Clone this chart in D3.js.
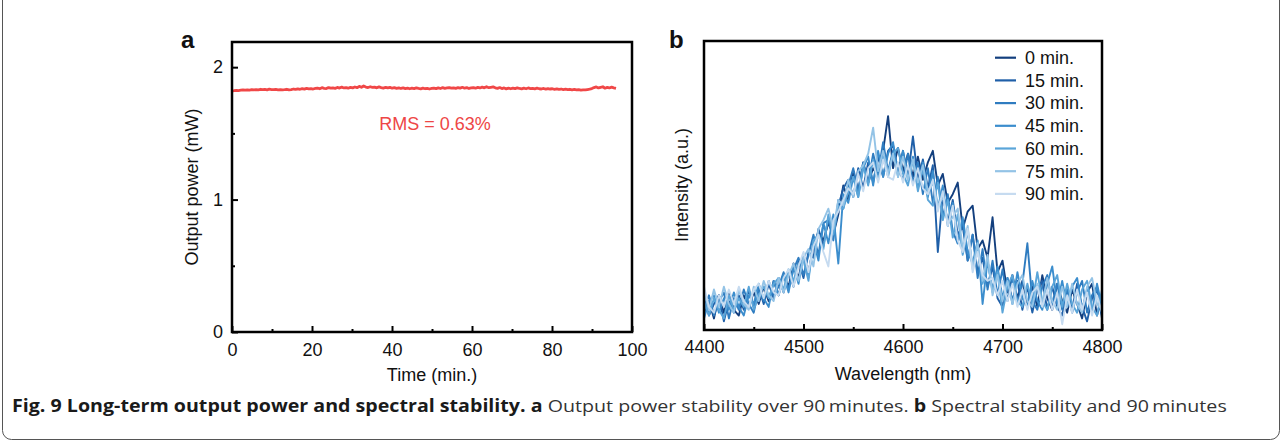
<!DOCTYPE html>
<html>
<head>
<meta charset="utf-8">
<script src="https://cdn.jsdelivr.net/npm/d3@7"></script>
<style>
  html, body { margin: 0; padding: 0; background: #fff; }
  svg text { font-family: "Liberation Sans", Arial, sans-serif; }
</style>
</head>
<body>
<div id="chart"></div>
<script>
// panel a : output power over time (mW), evenly sampled from 0 to 96 min
const powerValues = [
  1.820,1.822,1.825,1.823,1.826,1.828,1.826,1.829,1.827,1.830,1.828,
  1.831,1.829,1.833,1.830,1.832,1.829,1.834,1.831,1.830,1.832,
  1.829,1.831,1.828,1.830,1.833,1.829,1.831,1.835,1.832,1.836,
  1.833,1.838,1.834,1.840,1.836,1.838,1.835,1.839,1.842,1.837,
  1.845,1.840,1.838,1.846,1.841,1.843,1.840,1.847,1.842,1.849,
  1.843,1.846,1.841,1.848,1.844,1.850,1.845,1.855,1.848,1.858,
  1.850,1.846,1.852,1.847,1.849,1.844,1.851,1.846,1.842,1.848,
  1.843,1.847,1.841,1.845,1.840,1.844,1.839,1.843,1.838,1.842,
  1.837,1.841,1.838,1.843,1.839,1.836,1.841,1.837,1.840,1.835,
  1.839,1.842,1.838,1.844,1.839,1.845,1.840,1.843,1.846,1.841,
  1.844,1.840,1.846,1.842,1.848,1.841,1.845,1.839,1.843,1.846,
  1.841,1.847,1.843,1.849,1.844,1.852,1.845,1.848,1.851,1.844,
  1.840,1.846,1.838,1.843,1.836,1.841,1.837,1.842,1.838,1.844,
  1.839,1.836,1.841,1.837,1.843,1.838,1.840,1.836,1.841,1.837,
  1.835,1.839,1.834,1.838,1.835,1.837,1.833,1.836,1.832,1.835,
  1.831,1.834,1.830,1.833,1.829,1.832,1.828,1.830,1.827,1.829,
  1.828,1.831,1.834,1.838,1.846,1.851,1.843,1.848,1.852,1.841,
  1.847,1.843,1.849,1.844,1.840
];
const timeEnd = 96;
const xTicksA = [0, 20, 40, 60, 80, 100];
const xMinorA = [10, 30, 50, 70, 90];
const yTicksA = [0, 1, 2];
const yMinorA = [0.5, 1.5];
const rmsLabel = "RMS = 0.63%";

// panel b : spectra, 4400..4800 nm every 5 nm
const wavelengths = d3.range(4400, 4801, 5);
const seriesNames = ["0 min.", "15 min.", "30 min.", "45 min.", "60 min.", "75 min.", "90 min."];
const seriesColors = ["#133f7e", "#1f5fa8", "#2f7cc0", "#3b8dcd", "#5aa5d9", "#93c3e6", "#c6dbf0"];
const spec0 = [.05,.10,.04,.12,.06,.13,.07,.05,.12,.08,.13,.09,.15,.10,.17,.12,.19,.15,.23,.18,
  .26,.20,.29,.34,.31,.37,.33,.40,.50,.45,.55,.48,.58,.51,.56,.53,.62,.74,.56,.63,
  .55,.61,.53,.60,.52,.58,.62,.50,.54,.44,.47,.51,.35,.41,.43,.28,.31,.25,.39,.20,
  .24,.13,.19,.11,.17,.09,.15,.08,.19,.11,.07,.16,.10,.06,.14,.09,.04,.13,.16,.05,.12];
const spec15 = [.11,.05,.09,.12,.03,.10,.06,.12,.07,.14,.08,.15,.09,.16,.11,.18,.13,.20,.15,.24,
  .18,.27,.25,.35,.29,.39,.33,.43,.49,.52,.46,.56,.49,.58,.51,.60,.53,.62,.64,.55,
  .62,.53,.67,.52,.59,.49,.57,.27,.47,.37,.45,.33,.36,.24,.33,.20,.25,.15,.22,.11,
  .08,.18,.10,.17,.07,.15,.06,.14,.17,.07,.15,.08,.05,.14,.07,.16,.08,.03,.11,.14,.04];
const spec30 = [.07,.12,.05,.10,.13,.04,.11,.07,.14,.09,.06,.14,.10,.17,.12,.15,.20,.14,.21,.25,
  .19,.26,.33,.26,.37,.38,.31,.45,.42,.50,.56,.48,.58,.51,.61,.54,.65,.55,.62,.56,
  .52,.61,.51,.58,.47,.56,.44,.53,.39,.47,.34,.30,.38,.24,.33,.18,.28,.14,.24,.12,
  .21,.10,.18,.09,.16,.30,.10,.07,.15,.19,.09,.16,.07,.14,.06,.13,.17,.06,.12,.15,.05];
const spec45 = [.04,.10,.12,.06,.11,.07,.13,.08,.05,.12,.09,.16,.11,.08,.17,.12,.19,.13,.22,.16,
  .26,.18,.31,.24,.37,.30,.40,.23,.47,.44,.53,.46,.56,.60,.50,.62,.53,.61,.65,.53,
  .62,.52,.60,.49,.58,.46,.55,.42,.50,.36,.44,.30,.39,.27,.23,.31,.09,.24,.14,.22,
  .11,.18,.09,.20,.11,.08,.17,.10,.07,.16,.22,.09,.17,.08,.15,.18,.07,.14,.06,.16,.08];
const spec60 = [.10,.05,.11,.07,.04,.12,.07,.11,.08,.15,.07,.12,.15,.11,.16,.18,.14,.21,.17,.23,
  .24,.17,.31,.33,.28,.40,.33,.43,.42,.48,.53,.46,.57,.50,.59,.52,.60,.53,.61,.63,
  .54,.50,.59,.48,.56,.45,.43,.51,.38,.45,.32,.40,.26,.34,.22,.29,.16,.24,.13,.20,
  .06,.15,.19,.10,.08,.16,.09,.20,.10,.07,.15,.19,.08,.16,.09,.06,.14,.17,.08,.05,.14];
const spec75 = [.13,.07,.14,.08,.15,.09,.06,.14,.09,.07,.15,.10,.17,.12,.10,.18,.13,.19,.23,.17,
  .25,.28,.22,.35,.38,.42,.35,.45,.43,.52,.46,.55,.57,.61,.70,.55,.62,.54,.61,.53,
  .60,.52,.59,.51,.57,.48,.51,.43,.46,.37,.39,.42,.28,.36,.21,.30,.17,.26,.12,.19,
  .10,.17,.09,.16,.19,.10,.08,.16,.09,.18,.10,.07,.15,.08,.16,.09,.06,.15,.18,.09,.07];
const spec90 = [.15,.08,.06,.12,.08,.14,.09,.15,.10,.08,.14,.16,.11,.17,.13,.12,.18,.21,.15,.22,
  .27,.20,.29,.33,.27,.22,.38,.41,.45,.49,.47,.54,.48,.56,.58,.51,.59,.53,.52,.58,
  .51,.57,.50,.56,.49,.47,.52,.41,.48,.36,.43,.31,.27,.35,.20,.27,.19,.17,.18,.12,
  .17,.10,.16,.08,.14,.07,.13,.15,.08,.14,.07,.13,.02,.12,.06,.14,.07,.13,.05,.12,.06];
const spectra = [spec0, spec15, spec30, spec45, spec60, spec75, spec90];
const xTicksB = [4400, 4500, 4600, 4700, 4800];
const xMinorB = [4450, 4550, 4650, 4750];

const W = 1282, H = 442;
const svg = d3.select("#chart").append("svg")
  .attr("width", W).attr("height", H)
  .style("display", "block");

// outer figure box
svg.append("rect")
  .attr("x", 2.5).attr("y", -12).attr("width", W - 5).attr("height", H + 9.5)
  .attr("rx", 9).attr("fill", "none").attr("stroke", "#555").attr("stroke-width", 1);

function frame(g, x, y) {
  const [x0, x1] = x.range(), [y0, y1] = y.range();
  g.append("rect")
    .attr("x", x0).attr("y", y1).attr("width", x1 - x0).attr("height", y0 - y1)
    .attr("fill", "none").attr("stroke", "#000").attr("stroke-width", 2.5);
}

function styleAxis(sel) {
  sel.select(".domain").remove();
  sel.selectAll(".tick line").attr("stroke", "#000").attr("stroke-width", 2);
  sel.selectAll(".tick text").attr("font-size", 18).attr("fill", "#111");
}

// ---------- panel a ----------
const xa = d3.scaleLinear().domain([0, 100]).range([232, 632]);
const ya = d3.scaleLinear().domain([0, 2.19]).range([332, 42]);
const ga = svg.append("g");

ga.append("clipPath").attr("id", "clipA").append("rect")
  .attr("x", 233).attr("y", 43).attr("width", 398).attr("height", 288);

ga.append("path")
  .datum(powerValues)
  .attr("clip-path", "url(#clipA)")
  .attr("fill", "none").attr("stroke", "#f04747").attr("stroke-width", 2.8)
  .attr("stroke-linejoin", "round")
  .attr("d", d3.line()
    .x((d, i) => xa(i * timeEnd / (powerValues.length - 1)))
    .y(d => ya(d)));

ga.append("g").attr("transform", "translate(0,332)")
  .call(d3.axisBottom(xa).tickValues(xTicksA).tickSize(-6).tickPadding(11).tickFormat(d3.format("d")))
  .call(styleAxis);
ga.append("g").attr("transform", "translate(0,332)")
  .call(d3.axisBottom(xa).tickValues(xMinorA).tickSize(-3).tickFormat(""))
  .call(styleAxis);
ga.append("g").attr("transform", "translate(232,0)")
  .call(d3.axisLeft(ya).tickValues(yTicksA).tickSize(-6).tickPadding(9).tickFormat(d3.format("d")))
  .call(styleAxis);
ga.append("g").attr("transform", "translate(232,0)")
  .call(d3.axisLeft(ya).tickValues(yMinorA).tickSize(-3).tickFormat(""))
  .call(styleAxis);
frame(ga, xa, ya);

ga.append("text").attr("x", 432).attr("y", 381).attr("text-anchor", "middle")
  .attr("font-size", 18).attr("fill", "#111").text("Time (min.)");
ga.append("text").attr("transform", "translate(198,187) rotate(-90)")
  .attr("text-anchor", "middle").attr("font-size", 18).attr("fill", "#111")
  .text("Output power (mW)");
ga.append("text").attr("x", 435).attr("y", 130).attr("text-anchor", "middle")
  .attr("font-size", 18).attr("fill", "#ee4646").text(rmsLabel);
ga.append("text").attr("x", 181).attr("y", 48).attr("font-size", 24)
  .attr("font-weight", "bold").attr("fill", "#111").text("a");

// ---------- panel b ----------
const xb = d3.scaleLinear().domain([4400, 4800]).range([704, 1102]);
const yb = d3.scaleLinear().domain([0, 1]).range([330, 41]);
const gb = svg.append("g");

gb.append("clipPath").attr("id", "clipB").append("rect")
  .attr("x", 705).attr("y", 42).attr("width", 396).attr("height", 287);

const lineB = d3.line().x((d, i) => xb(wavelengths[i])).y(d => yb(d));
gb.append("g").attr("clip-path", "url(#clipB)")
  .selectAll("path")
  .data(spectra)
  .enter()
  .append("path")
  .attr("fill", "none")
  .attr("stroke", (d, i) => seriesColors[i])
  .attr("stroke-width", 1.9)
  .attr("stroke-linejoin", "round")
  .attr("d", lineB);

gb.append("g").attr("transform", "translate(0,330)")
  .call(d3.axisBottom(xb).tickValues(xTicksB).tickSize(-6).tickPadding(10).tickFormat(d3.format("d")))
  .call(styleAxis);
gb.append("g").attr("transform", "translate(0,330)")
  .call(d3.axisBottom(xb).tickValues(xMinorB).tickSize(-3).tickFormat(""))
  .call(styleAxis);
frame(gb, xb, yb);

gb.append("text").attr("x", 903).attr("y", 380).attr("text-anchor", "middle")
  .attr("font-size", 18).attr("fill", "#111").text("Wavelength (nm)");
gb.append("text").attr("transform", "translate(688,185) rotate(-90)")
  .attr("text-anchor", "middle").attr("font-size", 18).attr("fill", "#111")
  .text("Intensity (a.u.)");
gb.append("text").attr("x", 669).attr("y", 48).attr("font-size", 24)
  .attr("font-weight", "bold").attr("fill", "#111").text("b");

// legend
const legend = gb.append("g").selectAll("g")
  .data(seriesNames)
  .enter()
  .append("g")
  .attr("transform", (d, i) => `translate(995,${57.7 + i * 22.7})`);
legend.append("line").attr("x1", 0).attr("x2", 21)
  .attr("stroke", (d, i) => seriesColors[i]).attr("stroke-width", 2.2);
legend.append("text").attr("x", 30).attr("dy", "0.35em")
  .attr("font-size", 18).attr("fill", "#111").text(d => d);

// ---------- caption ----------
const cap = svg.append("text")
  .style("font-family", "'Open Sans', 'Noto Sans', sans-serif")
  .attr("font-size", 17).attr("fill", "#1a1a1a");
cap.append("tspan").attr("font-weight", "bold")
  .text("Fig. 9 Long-term output power and spectral stability. a ");
cap.append("tspan").attr("fill", "#333").text("Output power stability over 90\u2009minutes. ");
cap.append("tspan").attr("font-weight", "bold").attr("fill", "#1a1a1a").text("b ");
cap.append("tspan").attr("fill", "#333").text("Spectral stability and 90\u2009minutes");
const capW = cap.node().getComputedTextLength();
cap.attr("transform", `translate(12,412) scale(${1215 / capW},1)`);
</script>
</body>
</html>
